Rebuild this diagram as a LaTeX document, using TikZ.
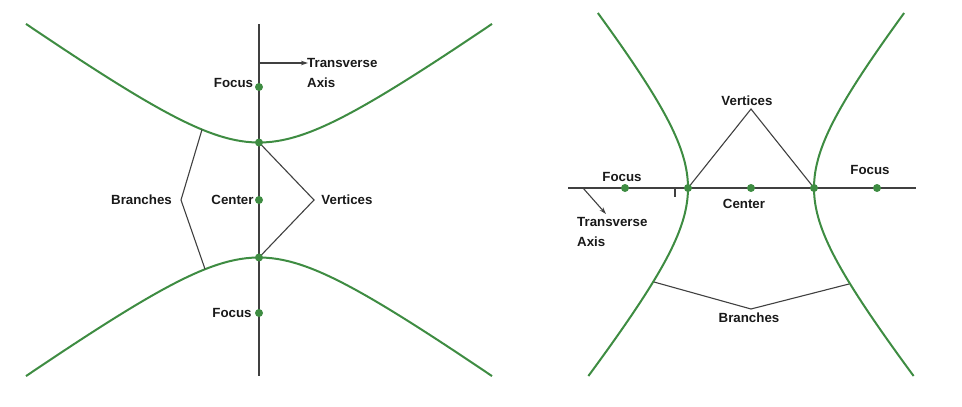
\documentclass[tikz,border=0pt]{standalone}
\usepackage{fontspec}
\setmainfont{Liberation Sans}
\usetikzlibrary{arrows.meta}
\definecolor{hgreen}{RGB}{62,140,66}
\definecolor{lgray}{RGB}{64,64,64}
\newcommand{\vtx}[1]{node[fill=hgreen,circle,inner sep=0pt,minimum size=8pt](#1){}}

\begin{document}
\begin{tikzpicture}[x=1pt,y=-1pt,
  curve/.style={hgreen,line width=2pt},
  axis/.style={lgray,line width=1.4pt},
  pointer/.style={lgray,line width=1.1pt},
  lbl/.style={font=\bfseries\fontsize{13.3}{20}\selectfont,inner sep=0pt,text=black!90,align=left}]
  \useasboundingbox (0,0) rectangle (962,407);

  % left: vertical transverse axis
  \coordinate (ltop) at (259,24);
  \coordinate (lbot) at (259,376);
  \coordinate (lb1) at (202,129.6);
  \coordinate (lbk) at (181,200);
  \coordinate (lb2) at (205,269);
  \coordinate (lvk) at (314,200);
  \coordinate (lta) at (259,63);
  \coordinate (ltb) at (308,63);
  \draw[curve] plot[domain=-233:233,samples=90] ({259+\x},{200-57.5*sqrt(1+(\x/80.5)^2)});
  \draw[curve] plot[domain=-233:233,samples=90] ({259+\x},{200+57.5*sqrt(1+(\x/80.5)^2)});
  \draw[pointer] (lb1) -- (lbk) -- (lb2);
  \draw[pointer] (259,142.5) -- (lvk) -- (259,257.5);
  \draw[pointer,-{Stealth[length=7pt,width=4.5pt]}] (lta) -- (ltb);
  \draw[axis] (ltop) -- (259,87)\vtx{lf1} -- (259,142.5)\vtx{lv1} -- (259,200)\vtx{lc}
    -- (259,257.5)\vtx{lv2} -- (259,313)\vtx{lf2} -- (lbot);
  \node[lbl] (lfocus1) at (233.5,83) {Focus};
  \node[lbl] (lfocus2) at (232,313) {Focus};
  \node[lbl] (lcenter) at (232.5,200) {Center};
  \node[lbl] (lbranch) at (141.5,200) {Branches};
  \node[lbl] (lvert) at (347,200) {Vertices};
  \node[lbl,anchor=west] (ltrans) at (307,73) {Transverse\\Axis};

  % right: horizontal transverse axis
  \coordinate (rleft) at (568,188);
  \coordinate (rright) at (916,188);
  \coordinate (rb1) at (654,282);
  \coordinate (rbk) at (751,309);
  \coordinate (rb2) at (849,284);
  \coordinate (rvk) at (751,109);
  \coordinate (rta) at (583,188);
  \coordinate (rtb) at (606,214);
  \draw[curve] plot[domain=-175:188,samples=90] ({751-63*sqrt(1+(\x/79)^2)},{188+\x});
  \draw[curve] plot[domain=-175:188,samples=90] ({751+63*sqrt(1+(\x/79)^2)},{188+\x});
  \draw[pointer] (rb1) -- (rbk) -- (rb2);
  \draw[pointer] (688,188) -- (rvk) -- (814,188);
  \draw[pointer,-{Stealth[length=7pt,width=4.5pt]}] (rta) -- (rtb);
  \draw[pointer] (675,189) -- (675,197);
  \draw[axis] (rleft) -- (625,188)\vtx{rf1} -- (688,188)\vtx{rv1} -- (751,188)\vtx{rc}
    -- (814,188)\vtx{rv2} -- (877,188)\vtx{rf2} -- (rright);
  \node[lbl] (rfocus1) at (622,177) {Focus};
  \node[lbl] (rfocus2) at (870,170) {Focus};
  \node[lbl] (rcenter) at (744,204) {Center};
  \node[lbl] (rvert) at (747,101) {Vertices};
  \node[lbl] (rbranch) at (749,318) {Branches};
  \node[lbl,anchor=west] (rtrans) at (577,231.5) {Transverse\\Axis};
\end{tikzpicture}
\end{document}
